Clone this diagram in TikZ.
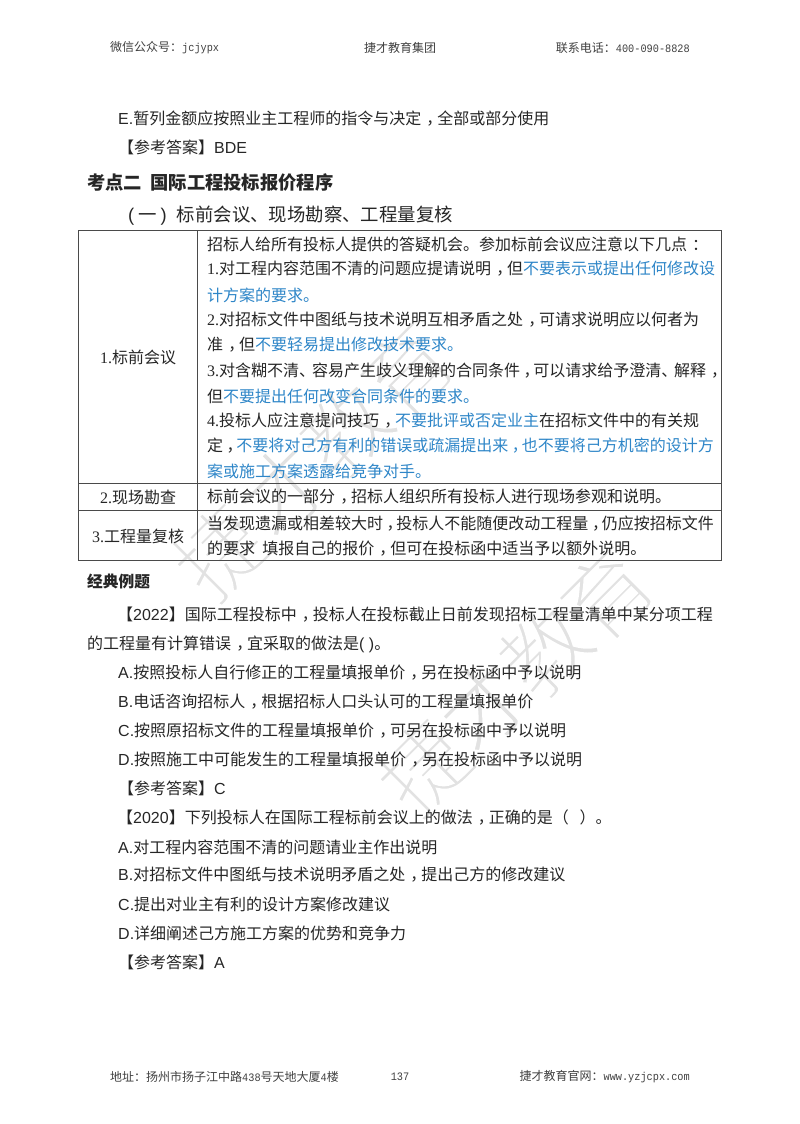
\documentclass[tikz,border=0pt]{standalone}
\usepackage{fontspec}
\setmainfont{Liberation Sans}
\newfontfamily\cjk{Noto Sans CJK SC}
\newfontfamily\tms{Liberation Serif}
\newfontfamily\mon[FakeStretch=0.9]{Liberation Mono}
\newfontfamily\lat{Liberation Sans}
\definecolor{ink}{HTML}{262626}
\definecolor{hl}{HTML}{2E86C8}
\definecolor{wm}{HTML}{E2E2E2}
\definecolor{hd}{HTML}{404040}
\definecolor{rulec}{HTML}{4A4A4A}
\newcommand{\cma}{\kern.32em，\kern-.32em}
\newcommand{\cmn}{\kern.22em，\kern-.39em}
\newcommand{\dun}{、\kern-.2em}
\newcommand{\hm}[1]{{\mon\fontsize{11.4}{13}\selectfont #1}}
\newcommand{\blu}[1]{\textcolor{hl}{#1}}
\newcommand{\thinglyph}[1]{\special{pdf:code q 2 Tr 3.2 w 1 1 1 RG}#1\special{pdf:code Q}}
\tikzset{
  x=1pt,y=-1pt,
  txt/.style={anchor=west,inner sep=0pt,text=ink,font=\cjk\fontsize{16}{19}\selectfont},
  lab/.style={inner sep=0pt,text=ink,font=\cjk\fontsize{16}{19}\selectfont},
  hdr/.style={inner sep=0pt,text=hd,font=\cjk\fontsize{12}{14}\selectfont},
  rule/.style={draw=rulec,line width=0.9pt},
  mark wm/.style={inner sep=0pt,text=wm,rotate=45,font=\cjk\fontsize{88}{96}\selectfont},
}
\begin{document}
\begin{tikzpicture}
\useasboundingbox[fill=white] (0,0) rectangle (800,1124);
% watermark
\node[mark wm] (w1) at (220,552) {\thinglyph{捷}};
\node[mark wm] (w2) at (283,490) {\thinglyph{才}};
\node[mark wm] (w3) at (345,430) {\thinglyph{教}};
\node[mark wm] (w4) at (407,370) {\thinglyph{育}};
\node[mark wm] (w5) at (423,767) {\thinglyph{捷}};
\node[mark wm] (w6) at (484,705) {\thinglyph{才}};
\node[mark wm] (w7) at (545,650) {\thinglyph{教}};
\node[mark wm] (w8) at (607,593) {\thinglyph{育}};
% header
\node[hdr,anchor=west] (h1) at (110,48) {微信公众号：\hm{jcjypx}};
\node[hdr] (h2) at (400,48) {捷才教育集团};
\node[hdr,anchor=east] (h3) at (690,48) {联系电话：\hm{400-090-8828}};
% top text
\node[txt] (t1) at (118,119) {{\lat E.}暂列金额应按照业主工程师的指令与决定\cma 全部或部分使用};
\node[txt] (t2) at (118,147) {【参考答案】{\lat BDE}};
\node[txt,font=\cjk\bfseries\fontsize{18.3}{22}\selectfont] (t3) at (87,183) {考点二\ \ 国际工程投标报价程序};
\node[txt,font=\cjk\fontsize{18.4}{22}\selectfont] (t4) at (128,215.5) {{\lat(}\kern4pt 一\kern4pt{\lat)}\kern10pt 标前会议、现场勘察、工程量复核};
% table frame
\coordinate (a) at (78,230); \coordinate (b) at (197,230); \coordinate (c) at (721,230);
\coordinate (d) at (78,483); \coordinate (f) at (721,483);
\coordinate (g) at (78,510); \coordinate (j) at (721,510);
\coordinate (k) at (78,560); \coordinate (l) at (197,560); \coordinate (m) at (721,560);
\draw[rule] (a) -- (c) -- (m) -- (k) -- cycle;
\draw[rule] (b) -- (l);
\draw[rule] (d) -- (f);
\draw[rule] (g) -- (j);
% table labels
\node[lab] (l1) at (138,357) {{\tms 1.}标前会议};
\node[lab] (l2) at (138,497) {{\tms 2.}现场勘查};
\node[lab] (l3) at (138,536) {{\tms 3.}工程量复核};
% table body
\node[txt] (r1) at (207,244) {招标人给所有投标人提供的答疑机会。参加标前会议应注意以下几点\kern.3em：};
\node[txt] (r2) at (207,269) {{\tms 1.}对工程内容范围不清的问题应提请说明\cma 但\blu{不要表示或提出任何修改设}};
\node[txt] (r3) at (207,295) {\blu{计方案的要求。}};
\node[txt] (r4) at (207,320) {{\tms 2.}对招标文件中图纸与技术说明互相矛盾之处\cma 可请求说明应以何者为};
\node[txt] (r5) at (207,345) {准\cma 但\blu{不要轻易提出修改技术要求。}};
\node[txt] (r6) at (207,371) {{\tms 3.}对含糊不清\dun 容易产生歧义理解的合同条件\cmn 可以请求给予澄清\dun 解释\cma};
\node[txt] (r7) at (207,396) {但\blu{不要提出任何改变合同条件的要求。}};
\node[txt] (r8) at (207,421) {{\tms 4.}投标人应注意提问技巧\cma \blu{不要批评或否定业主}在招标文件中的有关规};
\node[txt] (r9) at (207,446) {定\cmn \blu{不要将对己方有利的错误或疏漏提出来\cmn 也不要将己方机密的设计方}};
\node[txt] (r10) at (207,471) {\blu{案或施工方案透露给竞争对手。}};
\node[txt] (r11) at (207,497) {标前会议的一部分\cma 招标人组织所有投标人进行现场参观和说明。};
\node[txt] (r12) at (207,524) {当发现遗漏或相差较大时\cmn 投标人不能随便改动工程量\cmn 仍应按招标文件};
\node[txt] (r13) at (207,549) {的要求\ \ 填报自己的报价\cma 但可在投标函中适当予以额外说明。};
% examples
\node[txt,font=\cjk\bfseries\fontsize{15.7}{19}\selectfont] (x0) at (87,581) {经典例题};
\node[txt] (x1) at (117,615) {【{\lat 2022}】国际工程投标中\cma 投标人在投标截止日前发现招标工程量清单中某分项工程};
\node[txt] (x2) at (87,644) {的工程量有计算错误\cma 宜采取的做法是{\lat( )}。};
\node[txt] (x3) at (118,673) {{\lat A.}按照投标人自行修正的工程量填报单价\cma 另在投标函中予以说明};
\node[txt] (x4) at (118,702) {{\lat B.}电话咨询招标人\cma 根据招标人口头认可的工程量填报单价};
\node[txt] (x5) at (118,731) {{\lat C.}按照原招标文件的工程量填报单价\cma 可另在投标函中予以说明};
\node[txt] (x6) at (118,760) {{\lat D.}按照施工中可能发生的工程量填报单价\cma 另在投标函中予以说明};
\node[txt] (x7) at (118,788) {【参考答案】{\lat C}};
\node[txt] (x8) at (117,817) {【{\lat 2020}】下列投标人在国际工程标前会议上的做法\cma 正确的是（\ \ \ ）。};
\node[txt] (x9) at (118,847) {{\lat A.}对工程内容范围不清的问题请业主作出说明};
\node[txt] (x10) at (118,875) {{\lat B.}对招标文件中图纸与技术说明矛盾之处\cma 提出己方的修改建议};
\node[txt] (x11) at (118,904) {{\lat C.}提出对业主有利的设计方案修改建议};
\node[txt] (x12) at (118,933) {{\lat D.}详细阐述己方施工方案的优势和竞争力};
\node[txt] (x13) at (118,962) {【参考答案】{\lat A}};
% footer
\node[hdr,anchor=west] (f1) at (110,1077) {地址：扬州市扬子江中路\hm{438}号天地大厦\hm{4}楼};
\node[hdr] (f2) at (400,1077) {\hm{137}};
\node[hdr,anchor=east] (f3) at (690,1077) {捷才教育官网：\hm{www.yzjcpx.com}};
\end{tikzpicture}
\end{document}
